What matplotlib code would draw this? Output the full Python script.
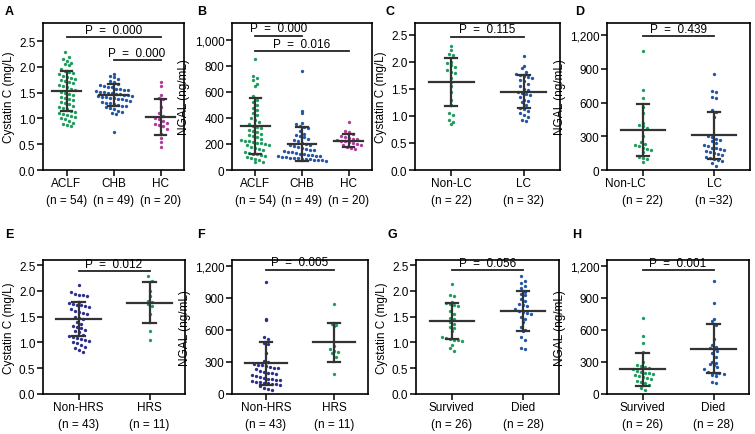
"""Cystatin C / NGAL scatter-dot panels (mean +/- SD) in a 2x4 grid."""
import numpy as np
import matplotlib

matplotlib.use("Agg")
import matplotlib.pyplot as plt
from matplotlib.ticker import FuncFormatter

plt.rcParams["font.family"] = ["Liberation Sans", "DejaVu Sans"]

GREEN = "#1f9d5c"
BLUE = "#2356a6"
MAGENTA = "#b23a9d"
NAVY = "#2c2f8e"

# ---- values ----
# A: Cystatin C by disease group
a_aclf = [2.28, 2.20, 2.16, 2.12, 2.08, 2.05, 2.03, 1.96, 1.92, 1.90,
          1.88, 1.86, 1.82, 1.80, 1.78, 1.76, 1.74, 1.72, 1.70, 1.68,
          1.65, 1.62, 1.60, 1.58, 1.55, 1.52, 1.50, 1.48, 1.45, 1.42,
          1.40, 1.38, 1.35, 1.32, 1.30, 1.28, 1.25, 1.22, 1.20, 1.18,
          1.15, 1.12, 1.10, 1.08, 1.07, 1.05, 1.03, 1.00, 0.98, 0.95,
          0.92, 0.90, 0.88, 0.85]
a_chb = [1.87, 1.83, 1.80, 1.76, 1.72, 1.70, 1.66, 1.64, 1.62, 1.60,
         1.60, 1.58, 1.57, 1.56, 1.55, 1.54, 1.52, 1.51, 1.50, 1.49,
         1.48, 1.47, 1.46, 1.45, 1.44, 1.43, 1.42, 1.41, 1.40, 1.39,
         1.38, 1.37, 1.35, 1.34, 1.32, 1.30, 1.29, 1.27, 1.26, 1.25,
         1.24, 1.22, 1.20, 1.18, 1.15, 1.12, 1.10, 1.08, 0.73]
a_hc = [1.70, 1.62, 1.45, 1.40, 1.38, 1.22, 1.10, 1.05, 1.00, 0.98,
        0.95, 0.92, 0.90, 0.88, 0.85, 0.80, 0.70, 0.62, 0.55, 0.45]
a_means = [1.53, 1.45, 1.03]
a_sds = [0.39, 0.21, 0.35]

# B: NGAL by disease group
b_aclf = [850, 720, 705, 690, 660, 645, 570, 540, 520, 500,
          480, 460, 440, 420, 400, 385, 370, 355, 340, 330,
          320, 310, 300, 290, 280, 270, 260, 250, 240, 230,
          225, 220, 215, 210, 205, 200, 195, 190, 180, 170,
          160, 150, 140, 130, 125, 120, 115, 110, 100, 95,
          85, 75, 65, 60]
b_chb = [760, 450, 440, 360, 350, 340, 330, 320, 300, 280,
         270, 260, 250, 240, 230, 220, 210, 200, 195, 190,
         185, 180, 170, 160, 155, 150, 145, 140, 135, 130,
         125, 120, 118, 115, 110, 108, 105, 100, 98, 95,
         92, 90, 88, 85, 82, 80, 78, 75, 70]
b_hc = [370, 300, 290, 280, 265, 250, 245, 240, 235, 230,
        225, 220, 215, 210, 200, 195, 190, 180, 170, 160]
b_means = [335, 200, 225]
b_sds = [215, 130, 52]

# C / D: liver cirrhosis
c_nonlc = [2.30, 2.22, 2.15, 2.13, 2.00, 1.98, 1.95, 1.90, 1.85, 1.82,
           1.80, 1.70, 1.62, 1.55, 1.45, 1.30, 1.20, 1.05, 1.02, 0.92,
           0.88, 0.85]
c_lc = [2.11, 1.92, 1.88, 1.82, 1.78, 1.76, 1.74, 1.72, 1.70, 1.67,
        1.65, 1.60, 1.55, 1.50, 1.48, 1.45, 1.42, 1.40, 1.38, 1.35,
        1.30, 1.28, 1.25, 1.20, 1.15, 1.12, 1.10, 1.05, 1.02, 0.98,
        0.92, 0.90]
c_means = [1.63, 1.45]
c_sds = [0.44, 0.30]

d_nonlc = [1060, 710, 640, 560, 510, 420, 400, 390, 370, 300,
           250, 230, 220, 210, 200, 190, 180, 160, 120, 110,
           100, 70]
d_lc = [850, 700, 690, 650, 640, 530, 520, 470, 300, 290,
        280, 270, 260, 240, 220, 210, 200, 200, 190, 180,
        170, 160, 150, 140, 130, 120, 110, 100, 90, 80,
        60, 40]
d_means = [356, 309]
d_sds = [230, 211]

# E / F: hepatorenal syndrome
e_nonhrs = [2.12, 1.97, 1.95, 1.93, 1.92, 1.90, 1.78, 1.76, 1.75, 1.73,
            1.72, 1.70, 1.68, 1.65, 1.62, 1.60, 1.58, 1.55, 1.50, 1.48,
            1.45, 1.40, 1.35, 1.32, 1.30, 1.28, 1.25, 1.22, 1.20, 1.15,
            1.12, 1.10, 1.08, 1.07, 1.05, 1.03, 1.00, 0.98, 0.95, 0.92,
            0.90, 0.85, 0.82]
e_hrs = [2.28, 2.20, 2.00, 1.90, 1.80, 1.78, 1.75, 1.70, 1.55, 1.22, 1.04]
e_means = [1.46, 1.77]
e_sds = [0.33, 0.40]

f_nonhrs = [1050, 700, 690, 530, 520, 480, 470, 380, 310, 300,
            280, 275, 270, 260, 250, 245, 240, 230, 220, 210,
            200, 195, 190, 180, 170, 160, 150, 145, 140, 135,
            130, 120, 115, 110, 105, 100, 95, 90, 80, 75,
            60, 50, 40]
f_hrs = [840, 660, 650, 640, 450, 420, 400, 390, 380, 350, 190]
f_means = [287, 483]
f_sds = [205, 184]

# G / H: outcome
g_surv = [2.13, 1.92, 1.90, 1.78, 1.76, 1.75, 1.73, 1.70, 1.62, 1.55,
          1.48, 1.45, 1.40, 1.35, 1.30, 1.28, 1.22, 1.10, 1.08, 1.06,
          1.05, 1.04, 1.02, 0.95, 0.90, 0.83]
g_died = [2.28, 2.20, 2.15, 2.10, 2.05, 1.98, 1.95, 1.92, 1.85, 1.80,
          1.75, 1.72, 1.70, 1.65, 1.62, 1.60, 1.58, 1.55, 1.50, 1.45,
          1.40, 1.30, 1.25, 1.22, 1.10, 1.05, 0.90, 0.87]
g_means = [1.41, 1.61]
g_sds = [0.35, 0.39]

h_surv = [710, 540, 480, 390, 300, 270, 260, 250, 240, 230,
          220, 210, 200, 195, 190, 180, 170, 160, 150, 140,
          120, 110, 100, 80, 60, 40]
h_died = [1060, 850, 700, 680, 650, 520, 460, 440, 430, 420,
          400, 380, 350, 300, 290, 280, 270, 250, 230, 210,
          200, 200, 195, 190, 180, 170, 110, 100]
h_means = [231, 424]
h_sds = [154, 230]

CYS_LABEL = "Cystatin C (mg/L)"
NGAL_LABEL = "NGAL (ng/mL)"
cys_ticks = [0.0, 0.5, 1.0, 1.5, 2.0, 2.5]
ngal_ticks_b = [0, 200, 400, 600, 800, 1000]
ngal_ticks = [0, 300, 600, 900, 1200]

FIG_W, FIG_H = 755, 435
FS = 8.5


def swarm_offsets(vals, dy, dx):
    vals = np.asarray(vals, float)
    rows = np.round(vals / dy).astype(int)
    off = np.zeros(len(vals))
    for r in np.unique(rows):
        idx = np.where(rows == r)[0]
        off[idx] = (np.arange(len(idx)) - (len(idx) - 1) / 2) * dx
    return off


def draw_panel(fig, rect, letter, letter_xy, groups, colors, means, sds,
               names, ns, ylim, yticks, ylabel, fmt, pvals, name_shift=None):
    ax = fig.add_axes(rect)
    k = len(groups)
    xlim = (-0.5, k - 0.5)
    ax.set_xlim(*xlim)
    ax.set_ylim(*ylim)

    w_px = rect[2] * FIG_W
    h_px = rect[3] * FIG_H
    dx = 4.0 / (w_px / (xlim[1] - xlim[0]))
    dy = 5.5 / (h_px / (ylim[1] - ylim[0]))
    cap = 0.12 if k == 3 else 0.085
    half = 0.31

    for i, (vals, col) in enumerate(zip(groups, colors)):
        xs = i + swarm_offsets(vals, dy, dx)
        ax.plot(xs, vals, "o", ms=2.4, color=col, mec="none", zorder=2)
        m, s = means[i], sds[i]
        ax.plot([i - half, i + half], [m, m], color="#333333", lw=1.6, zorder=3)
        ax.plot([i, i], [m - s, m + s], color="#333333", lw=1.6, zorder=3)
        for yy in (m - s, m + s):
            ax.plot([i - cap, i + cap], [yy, yy], color="#333333", lw=1.6, zorder=3)

    for (i, j, y, txt) in pvals:
        ax.plot([i, j], [y, y], color="#222222", lw=1.3, clip_on=False)
        ax.annotate(txt, xy=((i + j) / 2, y), xytext=(0, 1.0),
                    textcoords="offset points", ha="center", va="bottom",
                    fontsize=FS)

    ax.set_yticks(yticks)
    ax.yaxis.set_major_formatter(FuncFormatter(fmt))
    ax.set_xticks(range(k))
    ax.set_xticklabels([])
    ax.tick_params(axis="both", direction="out", length=4, width=1.1,
                   labelsize=FS, pad=1.5)
    for sp in ax.spines.values():
        sp.set_linewidth(1.2)
    ax.set_ylabel(ylabel, fontsize=FS, labelpad=3)

    for i in range(k):
        sh = 0.0
        if name_shift is not None:
            sh = name_shift[i]
        ax.annotate(names[i], xy=(i + sh, 0), xycoords=("data", "axes fraction"),
                    xytext=(0, -5), textcoords="offset points",
                    ha="center", va="top", fontsize=FS)
        ax.annotate(ns[i], xy=(i, 0), xycoords=("data", "axes fraction"),
                    xytext=(0, -17.5), textcoords="offset points",
                    ha="center", va="top", fontsize=FS)

    fig.text(letter_xy[0] / FIG_W, 1 - letter_xy[1] / FIG_H, letter,
             fontsize=9, fontweight="bold", ha="left", va="center")
    return ax


def box(x0, x1, ytop, ybot):
    return [x0 / FIG_W, 1 - ybot / FIG_H, (x1 - x0) / FIG_W, (ybot - ytop) / FIG_H]


cys_fmt = lambda v, _: f"{v:.1f}"
ngal_fmt = lambda v, _: f"{int(v):,}"

fig = plt.figure(figsize=(FIG_W / 100, FIG_H / 100), dpi=100)

draw_panel(fig, box(43, 184, 24, 171), "A", (5, 12),
           [a_aclf, a_chb, a_hc], [GREEN, BLUE, MAGENTA], a_means, a_sds,
           ["ACLF", "CHB", "HC"], ["(n = 54)", "(n = 49)", "(n = 20)"],
           (0, 2.85), cys_ticks, CYS_LABEL, cys_fmt,
           [(0, 2, 2.58, "P  =  0.000"), (1, 2, 2.13, "P  =  0.000")])

draw_panel(fig, box(232, 372, 24, 171), "B", (197, 12),
           [b_aclf, b_chb, b_hc], [GREEN, BLUE, MAGENTA], b_means, b_sds,
           ["ACLF", "CHB", "HC"], ["(n = 54)", "(n = 49)", "(n = 20)"],
           (0, 1130), ngal_ticks_b, NGAL_LABEL, ngal_fmt,
           [(0, 1, 1031, "P  =  0.000"), (0, 2, 914, "P  =  0.016")])

draw_panel(fig, box(415, 560, 24, 171), "C", (385, 12),
           [c_nonlc, c_lc], [GREEN, BLUE], c_means, c_sds,
           ["Non-LC", "LC"], ["(n = 22)", "(n = 32)"],
           (0, 2.72), cys_ticks, CYS_LABEL, cys_fmt,
           [(0, 1, 2.47, "P  =  0.115")])

draw_panel(fig, box(607, 750, 24, 171), "D", (575, 12),
           [d_nonlc, d_lc], [GREEN, BLUE], d_means, d_sds,
           ["Non-LC", "LC"], ["(n = 22)", "(n =32)"],
           (0, 1307), ngal_ticks, NGAL_LABEL, ngal_fmt,
           [(0, 1, 1188, "P  =  0.439")], name_shift=[-0.24, 0.0])

draw_panel(fig, box(43, 185, 261, 395), "E", (5, 235),
           [e_nonhrs, e_hrs], [NAVY, GREEN], e_means, e_sds,
           ["Non-HRS", "HRS"], ["(n = 43)", "(n = 11)"],
           (0, 2.6), cys_ticks, CYS_LABEL, cys_fmt,
           [(0, 1, 2.38, "P  =  0.012")])

draw_panel(fig, box(232, 368, 261, 395), "F", (197, 235),
           [f_nonhrs, f_hrs], [NAVY, GREEN], f_means, f_sds,
           ["Non-HRS", "HRS"], ["(n = 43)", "(n = 11)"],
           (0, 1256), ngal_ticks, NGAL_LABEL, ngal_fmt,
           [(0, 1, 1166, "P  =  0.005")])

draw_panel(fig, box(416, 559, 261, 395), "G", (387, 235),
           [g_surv, g_died], [GREEN, BLUE], g_means, g_sds,
           ["Survived", "Died"], ["(n = 26)", "(n = 28)"],
           (0, 2.6), cys_ticks, CYS_LABEL, cys_fmt,
           [(0, 1, 2.40, "P  =  0.056")])

draw_panel(fig, box(607, 749, 261, 395), "H", (572, 235),
           [h_surv, h_died], [GREEN, BLUE], h_means, h_sds,
           ["Survived", "Died"], ["(n = 26)", "(n = 28)"],
           (0, 1256), ngal_ticks, NGAL_LABEL, ngal_fmt,
           [(0, 1, 1160, "P  =  0.001")])

fig.savefig("out.png", dpi=100)
plt.close(fig)
